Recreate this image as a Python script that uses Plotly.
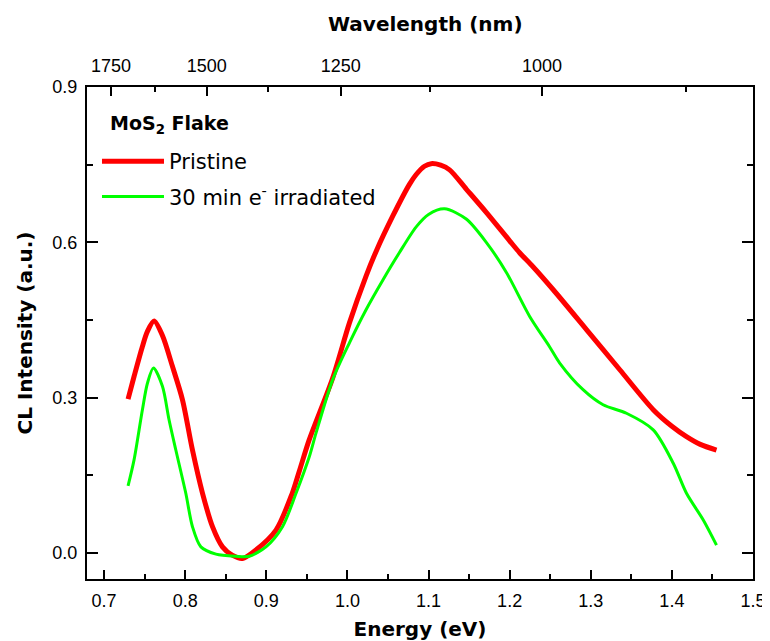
import plotly.graph_objects as go

# Data
energy_pristine = [0.7296, 0.737, 0.7473, 0.7535, 0.7617, 0.772, 0.7843, 0.7967, 0.809, 0.8214,
                   0.8337, 0.846, 0.858, 0.8708, 0.8872, 0.912, 0.932, 0.9407, 0.953, 0.9819,
                   1.0025, 1.023, 1.0355, 1.056, 1.0765, 1.0848, 1.095, 1.1033, 1.115, 1.126,
                   1.1465, 1.1712, 1.2, 1.2123, 1.2288, 1.2535, 1.2947, 1.3358, 1.377, 1.40,
                   1.418, 1.435, 1.455]
int_pristine = [0.2975, 0.341, 0.399, 0.428, 0.448, 0.420, 0.3606, 0.296, 0.199, 0.1155,
                0.051, 0.012, -0.004, -0.0103, 0.006, 0.0445, 0.1155, 0.158, 0.219, 0.338,
                0.4446, 0.535, 0.583, 0.651, 0.712, 0.731, 0.747, 0.752, 0.749, 0.740,
                0.703, 0.658, 0.603, 0.580, 0.553, 0.509, 0.4316, 0.354, 0.277, 0.245,
                0.225, 0.210, 0.199]

energy_irr = [0.7296, 0.737, 0.7473, 0.7535, 0.7609, 0.772, 0.7802, 0.7885, 0.8008, 0.809,
              0.8194, 0.838, 0.8626, 0.879, 0.8996, 0.92, 0.9367, 0.953, 0.9613, 0.9819,
              1.0025, 1.023, 1.0436, 1.064, 1.0848, 1.1, 1.1198, 1.1465, 1.1712, 1.196,
              1.2247, 1.249, 1.2617, 1.2905, 1.3152, 1.344, 1.377, 1.4017, 1.418, 1.4387, 1.455]
int_irr = [0.1297, 0.18, 0.277, 0.328, 0.3574, 0.322, 0.257, 0.199, 0.1155, 0.051,
           0.012, -0.002, -0.006, -0.006, 0.012, 0.051, 0.1155, 0.186, 0.2316, 0.335,
           0.406, 0.47, 0.527, 0.58, 0.63, 0.654, 0.665, 0.645, 0.600, 0.542,
           0.457, 0.399, 0.367, 0.3155, 0.2864, 0.270, 0.238, 0.1736, 0.1155, 0.064, 0.0155]

energy_ticks = [0.7, 0.8, 0.9, 1.0, 1.1, 1.2, 1.3, 1.4, 1.5]
intensity_ticks = [0.0, 0.3, 0.6, 0.9]
wavelength_ticks = [1750, 1500, 1250, 1000]
wavelength_minor = [1625, 1375, 1125, 875]
HC = 1239.84  # eV*nm

XR = [0.679, 1.5]
YR = [-0.05, 0.9]
TICKFONT = "Liberation Sans, Arial, sans-serif"
TITLEFONT = "DejaVu Sans, sans-serif"

fig = go.Figure()
fig.add_trace(go.Scatter(x=energy_pristine, y=int_pristine, mode="lines",
                         name="Pristine",
                         line=dict(color="#FF0000", width=5, shape="spline", smoothing=0.8),
                         legendgroup="a"))
fig.add_trace(go.Scatter(x=energy_irr, y=int_irr, mode="lines",
                         name="30 min e<sup>-</sup> irradiated",
                         line=dict(color="#00FF00", width=3, shape="spline", smoothing=0.8),
                         legendgroup="b"))
# invisible trace to anchor the top wavelength axis
fig.add_trace(go.Scatter(x=energy_pristine, y=int_pristine, xaxis="x2", mode="lines",
                         line=dict(color="rgba(0,0,0,0)"), showlegend=False, hoverinfo="skip"))

axis_common = dict(showgrid=False, zeroline=False, linecolor="black", linewidth=2,
                   ticks="inside", tickcolor="black", tickwidth=1.5, automargin=False,
                   tickfont=dict(family=TICKFONT, size=18, color="black"))

# page body has an 8px default margin, so the figure is 762x633 and offset by 8px
fig.update_layout(
    width=762, height=633,
    margin=dict(l=79, r=17, t=79, b=62),
    paper_bgcolor="white", plot_bgcolor="white",
    font=dict(family=TICKFONT, color="black"),
    xaxis=dict(range=XR, tickvals=energy_ticks, tickformat=".1f", ticklen=9,
               mirror=True, ticklabelstandoff=4,
               minor=dict(dtick=0.05, tick0=0.7, ticks="inside", ticklen=5, tickwidth=1.5, tickcolor="black"),
               title=dict(text="<b>Energy (eV)</b>", font=dict(family=TITLEFONT, size=20), standoff=13),
               **axis_common),
    xaxis2=dict(range=XR, overlaying="x", side="top", ticklen=9, ticklabelstandoff=6,
                tickmode="array", tickvals=[HC / w for w in wavelength_ticks],
                ticktext=[str(w) for w in wavelength_ticks],
                minor=dict(tickmode="array", tickvals=[HC / w for w in wavelength_minor],
                           ticks="inside", ticklen=5, tickwidth=1.5, tickcolor="black"),
                **axis_common),
    yaxis=dict(range=YR, tickvals=intensity_ticks, tickformat=".1f", mirror="ticks", ticklen=11,
               ticklabelstandoff=4,
               minor=dict(dtick=0.15, tick0=0, ticks="inside", ticklen=6, tickwidth=1.5, tickcolor="black"),
               title=dict(text="<b>CL Intensity (a.u.)</b>", font=dict(family=TITLEFONT, size=20), standoff=14),
               **axis_common),
    legend=dict(x=0.015, y=0.89, xanchor="left", yanchor="top",
                bgcolor="rgba(0,0,0,0)", borderwidth=0,
                font=dict(family=TITLEFONT, size=21, color="black"),
                traceorder="grouped", tracegroupgap=5, itemwidth=62),
    annotations=[
        dict(text="<b>MoS<sub>2</sub> Flake</b>", xref="paper", yref="paper",
             x=(100 - 79) / 666, y=1 - (116 - 79) / 492, xanchor="left", yanchor="middle",
             showarrow=False, font=dict(family=TITLEFONT, size=19, color="black")),
        dict(text="<b>Wavelength (nm)</b>", xref="paper", yref="paper",
             x=(417 - 79) / 666, y=1 + (79 - 16) / 492, xanchor="center", yanchor="middle",
             showarrow=False, font=dict(family=TITLEFONT, size=20, color="black")),
    ],
    showlegend=True,
)

fig.write_html("out.html")
